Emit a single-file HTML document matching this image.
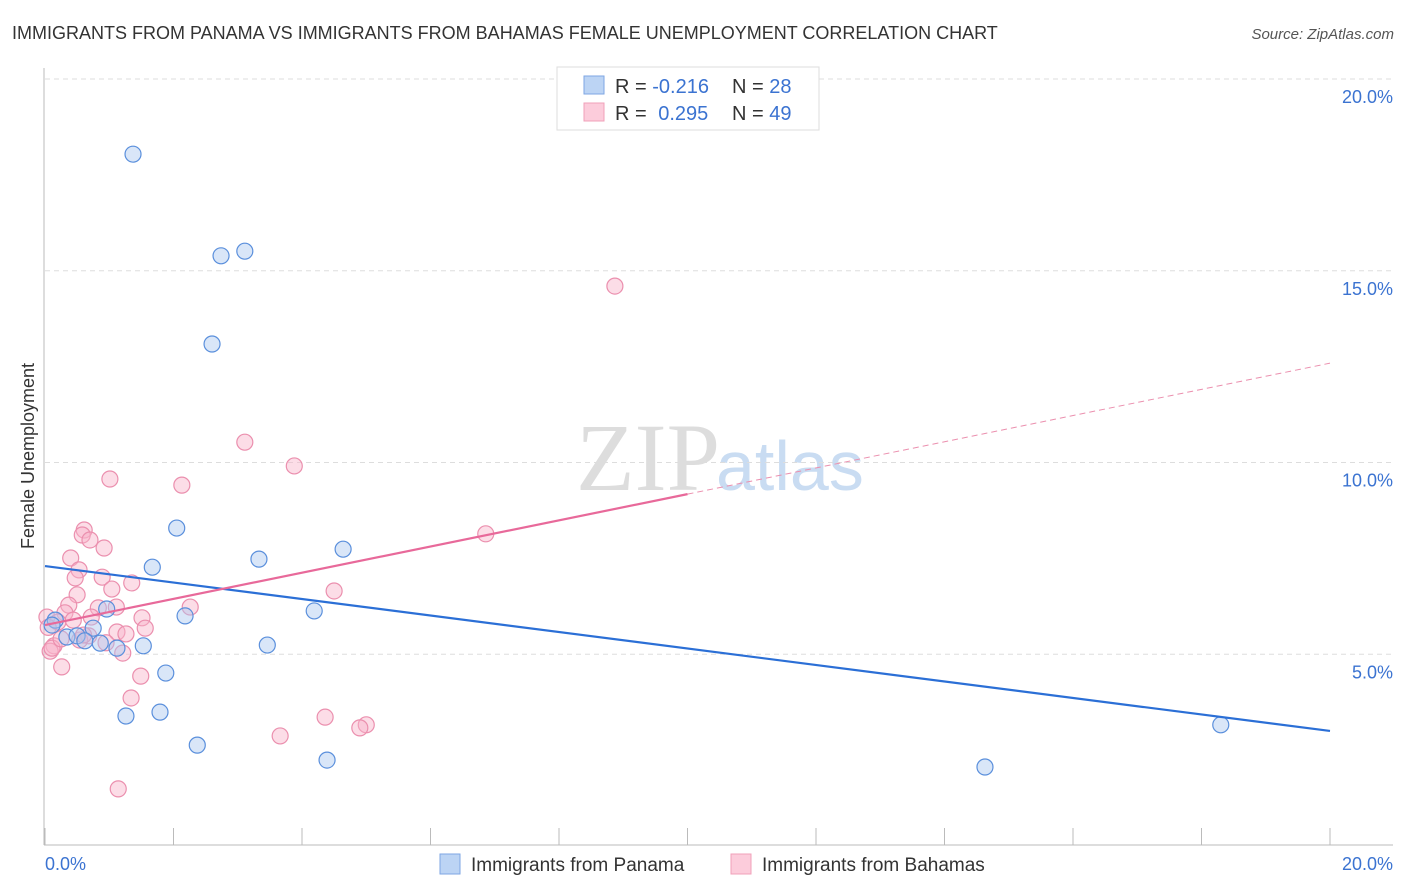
<!DOCTYPE html>
<html><head><meta charset="utf-8"><style>
body{margin:0;background:#fff;font-family:"Liberation Sans",sans-serif;}
svg{display:block}
</style></head><body>
<svg id="chart" width="1406" height="892" xmlns="http://www.w3.org/2000/svg">
<text x="12" y="39" font-size="18" fill="#333">IMMIGRANTS FROM PANAMA VS IMMIGRANTS FROM BAHAMAS FEMALE UNEMPLOYMENT CORRELATION CHART</text>
<text x="1394" y="39" font-size="15" fill="#555" font-style="italic" text-anchor="end">Source: ZipAtlas.com</text>
<text x="720" y="490" font-size="96" fill="#ddd" text-anchor="end" font-family="Liberation Serif,serif">ZIP</text>
<text x="716" y="490" font-size="70" fill="#c9dcf2">atlas</text>
<g id="grid"></g>
<g id="axes"></g>
<g id="marks"></g>
<text x="34" y="456" font-size="18" fill="#333" text-anchor="middle" transform="rotate(-90 34 456)">Female Unemployment</text>
<g>
<rect x="557" y="67" width="262" height="63" fill="#fff" stroke="#ddd"/>
<rect x="584" y="76" width="20" height="18" fill="#bcd4f4" stroke="#7ea6e3"/>
<rect x="584" y="103" width="20" height="18" fill="#fcccdb" stroke="#f0a0ba"/>
<text x="615" y="93" font-size="20" fill="#333">R = <tspan fill="#3b73d1">-0.216</tspan></text>
<text x="732" y="93" font-size="20" fill="#333">N = <tspan fill="#3b73d1">28</tspan></text>
<text x="615" y="120" font-size="20" fill="#333">R = <tspan fill="#3b73d1" dx="6">0.295</tspan></text>
<text x="732" y="120" font-size="20" fill="#333">N = <tspan fill="#3b73d1">49</tspan></text>
</g>
<g>
<rect x="440" y="854" width="20" height="20" fill="#bcd4f4" stroke="#7ea6e3"/>
<text x="471" y="871" font-size="19" fill="#333">Immigrants from Panama</text>
<rect x="731" y="854" width="20" height="20" fill="#fcccdb" stroke="#f0a0ba"/>
<text x="762" y="871" font-size="19" fill="#333">Immigrants from Bahamas</text>
</g>
</svg>
<script>
const blueX=[1.37,2.74,3.11,2.60,2.05,1.67,3.33,4.64,0.96,2.18,4.19,0.16,0.75,0.34,0.50,0.62,0.86,1.53,1.12,3.46,1.88,1.26,1.79,2.37,4.39,14.63,18.30,0.11];
const blueY=[18.04,15.39,15.51,13.09,8.29,7.27,7.48,7.74,6.18,6.00,6.13,5.89,5.68,5.45,5.48,5.35,5.29,5.22,5.16,5.24,4.51,3.39,3.49,2.63,2.24,2.06,3.16,5.76];
const pinkX=[8.87,3.11,3.88,1.01,2.13,6.86,0.61,0.58,0.70,0.92,0.40,0.53,0.47,0.89,1.35,1.04,4.50,0.50,0.37,2.26,0.83,1.11,0.31,0.72,0.03,1.51,0.44,0.20,1.56,1.12,1.26,0.68,0.54,0.14,0.08,0.11,1.21,0.26,1.49,1.34,4.36,5.00,4.90,3.66,1.14,0.05,0.25,0.60,0.95];
const pinkY=[14.60,10.53,9.91,9.57,9.41,8.14,8.24,8.11,7.98,7.77,7.51,7.20,6.99,7.01,6.86,6.70,6.65,6.55,6.28,6.23,6.21,6.23,6.08,5.97,5.97,5.95,5.89,5.84,5.68,5.58,5.53,5.48,5.37,5.22,5.08,5.16,5.03,4.67,4.43,3.86,3.36,3.16,3.08,2.87,1.49,5.70,5.40,5.50,5.30];
const blueTrend=[7.30,3.00];
const pinkTrend=[5.76,12.59];
const yTicks=[5,10,15,20];
const yTickLabels=["5.0%","10.0%","15.0%","20.0%"];
const xTickVals=[0,2,4,6,8,10,12,14,16,18,20];
const xLabels=["0.0%","20.0%"];
const NS="http://www.w3.org/2000/svg";
const sx=v=>45+v*64.25, sy=v=>846-v*38.35;
function mk(tag,attrs,parent){const e=document.createElementNS(NS,tag);for(const k in attrs)e.setAttribute(k,attrs[k]);document.getElementById(parent).appendChild(e);return e;}
yTicks.forEach((t,i)=>{
 const g=mk('line',{x1:45,x2:1393,y1:sy(t),y2:sy(t),stroke:'#ddd','stroke-dasharray':'5,4'},'grid');
 
 
 const l=mk('text',{x:1393,y:sy(t)+24,'font-size':18,fill:'#3b73d1','text-anchor':'end'},'axes');
 l.textContent=yTickLabels[i];
 
 
});
const ya=mk('line',{x1:44,x2:44,y1:68,y2:845,stroke:'#bbb'},'axes');


const xa=mk('line',{x1:44,x2:1393,y1:845,y2:845,stroke:'#bbb'},'axes');


xTickVals.forEach(t=>{const k=mk('line',{x1:sx(t),x2:sx(t),y1:828,y2:845,stroke:'#bbb'},'axes');
 
 });
[[0,'start',45],[20,'end',1393]].forEach(([v,a,x],i)=>{const l=mk('text',{x:x,y:870,'font-size':18,fill:'#3b73d1','text-anchor':a},'axes');l.textContent=xLabels[i];
 
 });
pinkX.forEach((x,i)=>{const c=mk('circle',{cx:sx(x),cy:sy(pinkY[i]),r:8,fill:'rgba(248,180,202,0.45)',stroke:'#eb8fae','stroke-width':1.2},'marks');
 
 });
blueX.forEach((x,i)=>{const c=mk('circle',{cx:sx(x),cy:sy(blueY[i]),r:8,fill:'rgba(170,200,240,0.45)',stroke:'#5a8fdc','stroke-width':1.2},'marks');
 
 });
const bt=mk('line',{x1:sx(0),y1:sy(blueTrend[0]),x2:sx(20),y2:sy(blueTrend[1]),stroke:'#2b6fd6','stroke-width':2.2},'marks');


const pm=pinkTrend[0]+(pinkTrend[1]-pinkTrend[0])*0.5;
const pt=mk('line',{x1:sx(0),y1:sy(pinkTrend[0]),x2:sx(10),y2:sy(pm),stroke:'#e8699a','stroke-width':2.2},'marks');


const pd=mk('line',{x1:sx(10),y1:sy(pm),x2:sx(20),y2:sy(pinkTrend[1]),stroke:'#eb8fae','stroke-width':1,'stroke-dasharray':'6,4'},'marks');


</script>
</body></html>
